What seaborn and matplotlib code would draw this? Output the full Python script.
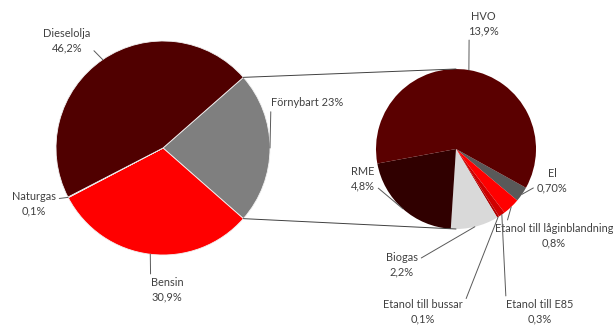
import matplotlib.pyplot as plt
import seaborn as sns
import numpy as np

# main pie
main_labels = ['Förnybart', 'Bensin', 'Naturgas', 'Dieselolja']
main_values = [23.0, 30.9, 0.1, 46.2]
main_text = ['Förnybart 23%', 'Bensin\n30,9%', 'Naturgas\n0,1%', 'Dieselolja\n46,2%']
main_colors = ['#7f7f7f', '#ff0000', '#e6e6e6', '#500000']

# breakdown of Förnybart
sub_labels = ['El', 'Etanol till låginblandning', 'Etanol till E85',
              'Etanol till bussar', 'Biogas', 'RME', 'HVO']
sub_values = [0.7, 0.8, 0.3, 0.1, 2.2, 4.8, 13.9]
sub_text = ['El\n0,70%', 'Etanol till låginblandning\n0,8%', 'Etanol till E85\n0,3%',
            'Etanol till bussar\n0,1%', 'Biogas\n2,2%', 'RME\n4,8%', 'HVO\n13,9%']
sub_colors = ['#595959', '#ff0000', '#d00000', '#b00000', '#d9d9d9', '#300000', '#5a0000']

sns.set_style('white')
plt.rcParams['font.family'] = ['Lato', 'DejaVu Sans']

W, H = 613, 326
fig = plt.figure(figsize=(W / 100, H / 100), dpi=100)
ax = fig.add_axes([0, 0, 1, 1])

c1, r1 = (163, H - 148), 107
c2, r2 = (456, H - 149), 80

start1 = main_values[0] / sum(main_values) * 360 / 2
w1, _ = ax.pie(main_values, colors=main_colors, center=c1, radius=r1,
               startangle=start1, counterclock=False, frame=True,
               wedgeprops=dict(edgecolor='#f2f2f2', linewidth=0.6))
w2, _ = ax.pie(sub_values, colors=sub_colors, center=c2, radius=r2,
               startangle=-29, counterclock=False, frame=True,
               wedgeprops=dict(edgecolor='none'))
ax.set_xlim(0, W)
ax.set_ylim(0, H)
ax.set_aspect('equal')
ax.axis('off')


def edge(center, r, ang):
    a = np.deg2rad(ang)
    return center[0] + r * np.cos(a), center[1] + r * np.sin(a)


# connector lines between pies
fw = w1[0]
for a1, a2 in [(fw.theta2, 90), (fw.theta1, 270)]:
    p1 = edge(c1, r1, a1)
    p2 = edge(c2, r2, a2)
    ax.plot([p1[0], p2[0]], [p1[1], p2[1]], color='#404040', lw=0.7)

main_pos = [(307, H - 103), (167, H - 290), (34, H - 204), (67, H - 41)]
main_rel = [(0.0, 0.1), (0.0, 0.75), (1.0, 0.7), (1.0, 0.25)]
sub_pos = [(552, H - 181), (554, H - 236), (540, H - 312), (423, H - 312),
           (402, H - 265), (363, H - 179), (483, H - 24)]
sub_rel = [(0.0, 0.3), (0.1, 1.0), (0.0, 0.75), (1.0, 0.7),
           (1.0, 0.7), (1.0, 0.25), (0.05, 0.25)]

for wedges, center, r, texts, pos, rel in [(w1, c1, r1, main_text, main_pos, main_rel),
                                           (w2, c2, r2, sub_text, sub_pos, sub_rel)]:
    for w, t, p, rp in zip(wedges, texts, pos, rel):
        mid = (w.theta1 + w.theta2) / 2
        ax.annotate(t, xy=edge(center, r, mid), xytext=p, ha='center', va='center',
                    fontsize=7.9, color='#404040', linespacing=1.4,
                    arrowprops=dict(arrowstyle='-', color='#595959', lw=0.7,
                                    shrinkA=0, shrinkB=0, relpos=rp))

fig.savefig('out.png', dpi=100)
